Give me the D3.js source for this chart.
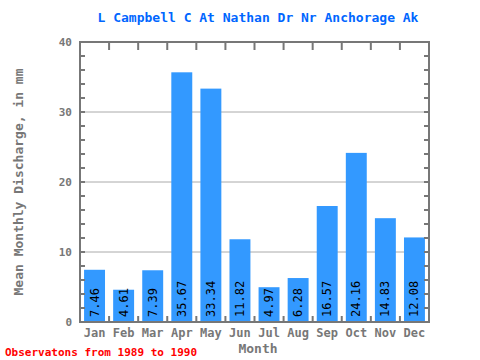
<!DOCTYPE html>
<html><head><meta charset="utf-8">
<script src="https://cdn.jsdelivr.net/npm/d3@7"></script>
<style>body{margin:0;background:#fff}</style>
</head><body>
<script>
const months = ["Jan","Feb","Mar","Apr","May","Jun","Jul","Aug","Sep","Oct","Nov","Dec"];
const values = [7.46,4.61,7.39,35.67,33.34,11.82,4.97,6.28,16.57,24.16,14.83,12.08];
const yTicks = [0,10,20,30,40];
const title = "L Campbell C At Nathan Dr Nr Anchorage Ak";
const yLabel = "Mean Monthly Discharge, in mm";
const xLabel = "Month";
const footer = "Observatons from 1989 to 1990";

const W=480,H=360, L=80,R=429,T=42,B=322;
const font = "'DejaVu Sans Mono', monospace";
const svg = d3.select("body").append("svg").attr("width",W).attr("height",H);
const x = d3.scaleBand().domain(months).range([L,R]).paddingInner(0.28).paddingOuter(0.14);
const y = d3.scaleLinear().domain([0,40]).range([B,T]);
const gray="#777";

svg.append("g").selectAll("line").data(yTicks.filter(d=>d>0&&d<40)).join("line")
 .attr("x1",L).attr("x2",R).attr("y1",d=>y(d)).attr("y2",d=>y(d))
 .attr("stroke","#aaa").attr("stroke-width",1);

svg.append("g").selectAll("rect").data(values).join("rect")
 .attr("x",(d,i)=>x(months[i])).attr("width",x.bandwidth())
 .attr("y",d=>y(d)).attr("height",d=>B-y(d)).attr("fill","#3399ff");

svg.append("g").selectAll("text").data(values).join("text")
 .attr("transform",(d,i)=>`translate(${x(months[i])+x.bandwidth()/2+4},${B-5}) rotate(-90)`)
 .attr("font-family",font).attr("font-size",12).attr("fill","#000")
 .text(d=>d.toFixed(2));

const minor = d3.range(0,41,2);
const yl = svg.append("g").attr("transform",`translate(${L},0)`)
 .call(d3.axisLeft(y).tickValues(yTicks).tickSize(0).tickPadding(8).tickFormat(d3.format("d")));
yl.select(".domain").remove();
yl.selectAll("text").attr("font-family",font).attr("font-size",11).attr("font-weight","bold").attr("fill",gray);
svg.append("g").selectAll("line").data(minor).join("line")
 .attr("x1",L).attr("x2",L+5).attr("y1",d=>y(d)).attr("y2",d=>y(d)).attr("stroke",gray).attr("stroke-width",2);
svg.append("g").selectAll("line").data(minor).join("line")
 .attr("x1",R-5).attr("x2",R).attr("y1",d=>y(d)).attr("y2",d=>y(d)).attr("stroke",gray).attr("stroke-width",2);
const step=(R-L)/12;
const bnd = d3.range(0,13).map(i=>L+i*step);
svg.append("g").selectAll("line").data(bnd).join("line")
 .attr("x1",d=>d).attr("x2",d=>d).attr("y1",B).attr("y2",B-6).attr("stroke",gray).attr("stroke-width",2);
svg.append("g").selectAll("line").data(bnd).join("line")
 .attr("x1",d=>d).attr("x2",d=>d).attr("y1",T).attr("y2",T+8).attr("stroke",gray).attr("stroke-width",2);
svg.append("rect").attr("x",L).attr("y",T).attr("width",R-L).attr("height",B-T)
 .attr("fill","none").attr("stroke",gray).attr("stroke-width",2);

const xa = svg.append("g").attr("transform",`translate(0,${B})`)
 .call(d3.axisBottom(x).tickSize(0).tickPadding(6));
xa.select(".domain").remove();
xa.selectAll("text").attr("font-family",font).attr("font-size",12).attr("font-weight","bold").attr("fill",gray);

svg.append("text").attr("x",258).attr("y",22).attr("text-anchor","middle")
 .attr("font-family",font).attr("font-size",13).attr("font-weight","bold").attr("fill","#0066ff").text(title);
svg.append("text").attr("transform","translate(23,182) rotate(-90)").attr("text-anchor","middle")
 .attr("font-family",font).attr("font-size",13).attr("font-weight","bold").attr("fill",gray).text(yLabel);
svg.append("text").attr("x",258).attr("y",353).attr("text-anchor","middle")
 .attr("font-family",font).attr("font-size",13).attr("font-weight","bold").attr("fill",gray).text(xLabel);
svg.append("text").attr("x",5).attr("y",356)
 .attr("font-family",font).attr("font-size",11).attr("font-weight","bold").attr("fill","#ff0000").text(footer);
</script>
</body></html>
